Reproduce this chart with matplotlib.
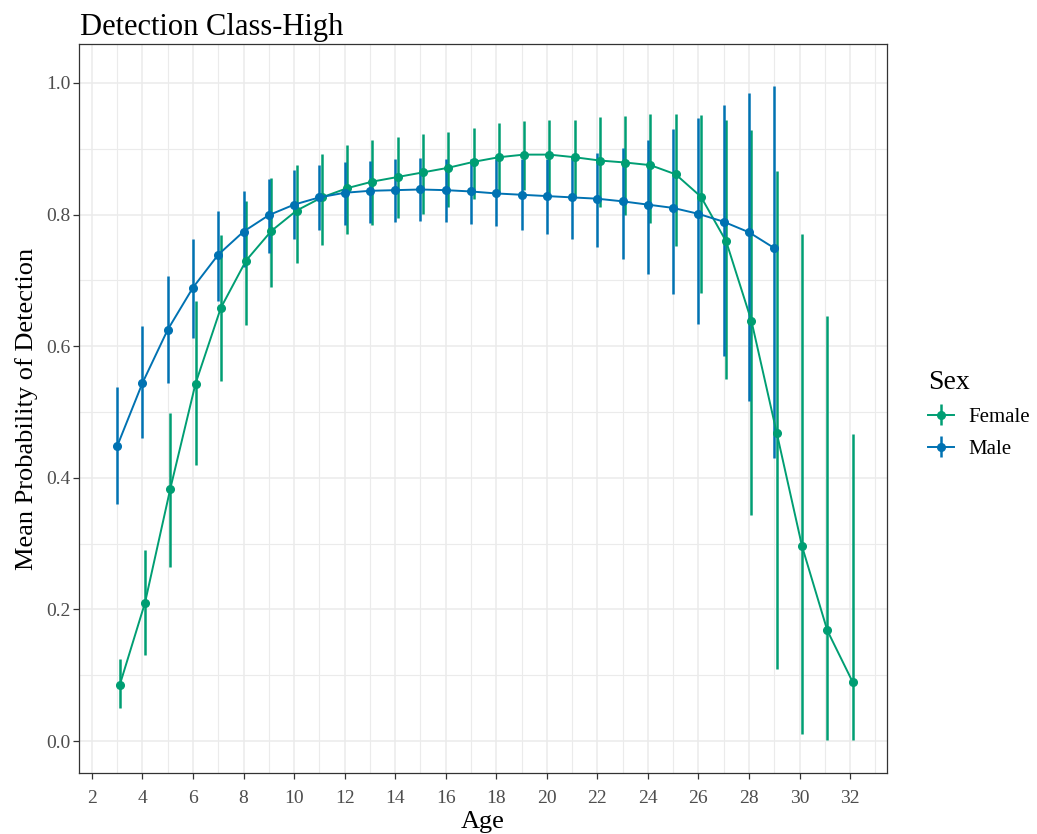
import matplotlib
matplotlib.use("Agg")
import matplotlib.pyplot as plt
import numpy as np

plt.rcParams['font.family'] = ['Liberation Serif', 'DejaVu Serif']

# female series
age_f = [3, 4, 5, 6, 7, 8, 9, 10, 11, 12, 13, 14, 15, 16, 17, 18, 19, 20, 21, 22,
         23, 24, 25, 26, 27, 28, 29, 30, 31, 32]
mean_f = [0.085, 0.210, 0.383, 0.543, 0.658, 0.730, 0.775, 0.806, 0.826, 0.840,
          0.850, 0.857, 0.864, 0.871, 0.880, 0.887, 0.891, 0.891, 0.887, 0.882,
          0.879, 0.875, 0.861, 0.827, 0.759, 0.638, 0.468, 0.296, 0.168, 0.090]
lo_f = [0.050, 0.131, 0.265, 0.420, 0.547, 0.632, 0.690, 0.727, 0.754, 0.770,
        0.784, 0.794, 0.801, 0.811, 0.823, 0.834, 0.837, 0.833, 0.826, 0.811,
        0.799, 0.787, 0.752, 0.681, 0.550, 0.344, 0.110, 0.010, 0.001, 0.001]
hi_f = [0.125, 0.291, 0.499, 0.668, 0.769, 0.821, 0.855, 0.875, 0.892, 0.905,
        0.913, 0.917, 0.922, 0.926, 0.932, 0.939, 0.942, 0.944, 0.944, 0.948,
        0.950, 0.952, 0.953, 0.951, 0.944, 0.929, 0.866, 0.770, 0.646, 0.467]

# male series
age_m = [3, 4, 5, 6, 7, 8, 9, 10, 11, 12, 13, 14, 15, 16, 17, 18, 19, 20, 21, 22,
         23, 24, 25, 26, 27, 28, 29]
mean_m = [0.448, 0.544, 0.625, 0.689, 0.739, 0.774, 0.799, 0.815, 0.826, 0.833,
          0.836, 0.837, 0.838, 0.837, 0.835, 0.832, 0.830, 0.828, 0.826, 0.824,
          0.820, 0.815, 0.810, 0.801, 0.789, 0.773, 0.749]
lo_m = [0.360, 0.460, 0.544, 0.613, 0.669, 0.720, 0.741, 0.763, 0.777, 0.784,
        0.787, 0.788, 0.790, 0.789, 0.785, 0.782, 0.776, 0.770, 0.763, 0.751,
        0.733, 0.710, 0.679, 0.633, 0.585, 0.516, 0.430]
hi_m = [0.538, 0.631, 0.707, 0.763, 0.806, 0.836, 0.854, 0.867, 0.875, 0.880,
        0.882, 0.884, 0.886, 0.885, 0.885, 0.884, 0.884, 0.884, 0.887, 0.894,
        0.901, 0.913, 0.930, 0.946, 0.967, 0.985, 0.995]

green = '#009E73'
blue = '#0072B2'

fig = plt.figure(figsize=(10.37, 8.34), dpi=100)
ax = fig.add_axes([0.0762, 0.0731, 0.7791, 0.8741])

def draw(age, mean, lo, hi, col, shift, lab):
    x = np.array(age) + shift
    m = np.array(mean)
    yerr = [m - np.array(lo), np.array(hi) - m]
    return ax.errorbar(x, m, yerr=yerr, color=col, lw=1.4, elinewidth=1.8,
                       marker='o', ms=5.5, capsize=0, label=lab, zorder=3)

hf = draw(age_f, mean_f, lo_f, hi_f, green, 0.1, 'Female')
hm = draw(age_m, mean_m, lo_m, hi_m, blue, 0.0, 'Male')

ax.set_xlim(1.49, 33.46)
ax.set_ylim(-0.0486, 1.059)
ax.set_xticks(np.arange(2, 33, 2))
ax.set_xticks(np.arange(3, 34, 2), minor=True)
ax.set_yticks(np.arange(0, 1.01, 0.2))
ax.set_yticks(np.arange(0.1, 1.0, 0.2), minor=True)
ax.set_yticklabels(['0.0', '0.2', '0.4', '0.6', '0.8', '1.0'])
ax.grid(which='major', color='#EBEBEB', lw=1.1, zorder=0)
ax.grid(which='minor', color='#EBEBEB', lw=0.8, zorder=0)
ax.set_axisbelow(True)
ax.tick_params(which='major', length=4, width=0.9, color='#333333',
               labelsize=14, labelcolor='#4D4D4D')
ax.tick_params(axis='x', which='major', pad=8)
ax.tick_params(axis='y', which='major', pad=2)
ax.tick_params(which='minor', length=0)
for s in ax.spines.values():
    s.set_color('#333333')
    s.set_linewidth(0.9)

ax.set_xlabel('Age', fontsize=19, labelpad=3)
ax.set_ylabel('Mean Probability of Detection', fontsize=19, labelpad=6)
fig.text(0.0772, 0.958, 'Detection Class-High', fontsize=22, ha='left', va='baseline')

leg = fig.legend(handles=[hf, hm], labels=['Female', 'Male'], title='Sex',
                 loc='center left', bbox_to_anchor=(0.877, 0.503), frameon=False,
                 fontsize=15, title_fontsize=20, handlelength=1.25,
                 handletextpad=0.7, labelspacing=0.6)
leg._legend_box.align = 'left'

fig.savefig('out.png', dpi=100)
